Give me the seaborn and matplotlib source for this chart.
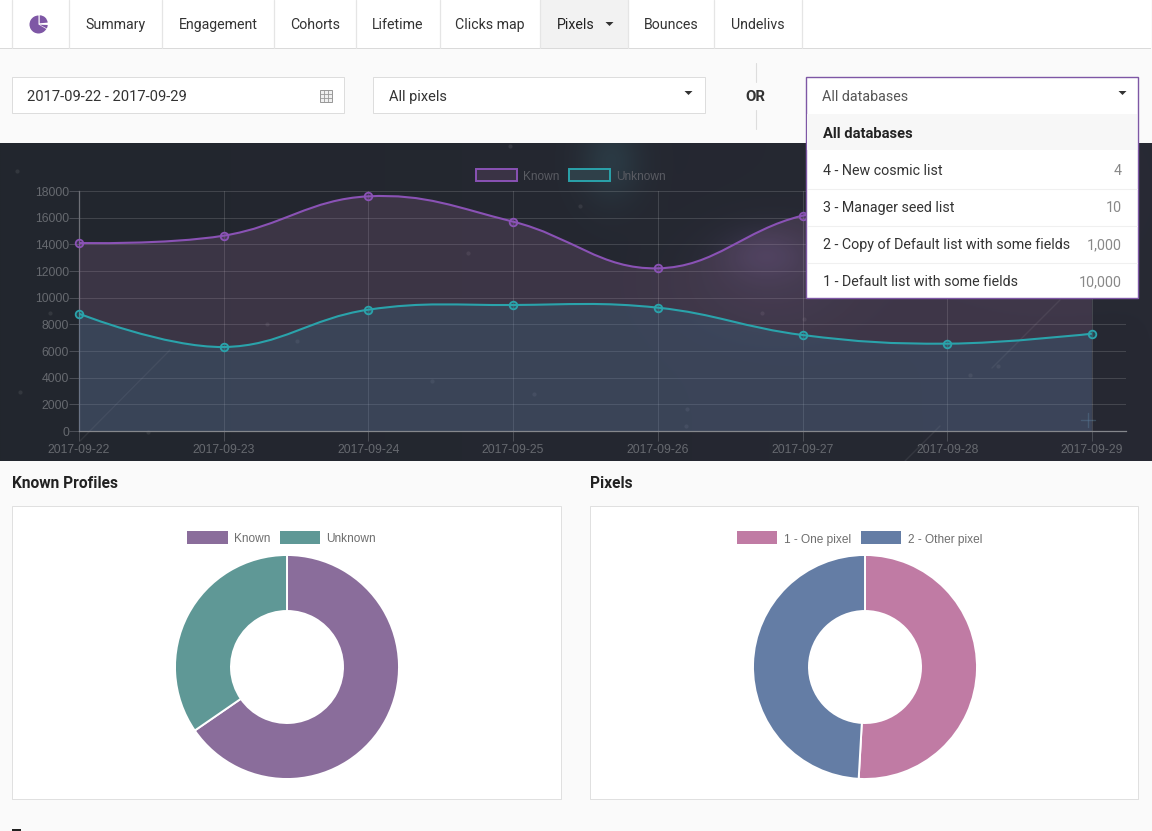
#!/usr/bin/env python3
"""
Recreates the stats dashboard screenshot: nav bar, filters, line chart, two donuts.
"""

import numpy as np
import pandas as pd
import matplotlib
matplotlib.use("Agg")
import matplotlib.pyplot as plt
import seaborn as sns
from matplotlib.patches import Rectangle, PathPatch, Wedge
from matplotlib.path import Path

W, H = 1152, 831

# chart data
dates = ['2017-09-22', '2017-09-23', '2017-09-24', '2017-09-25',
         '2017-09-26', '2017-09-27', '2017-09-28', '2017-09-29']
known = [14100, 14650, 17600, 15700, 12200, 16150, 17400, 16500]
unknown = [8800, 6300, 9100, 9450, 9250, 7200, 6550, 7300]
y_ticks = [0, 2000, 4000, 6000, 8000, 10000, 12000, 14000, 16000, 18000]

profile_labels = ['Known', 'Unknown']
profile_values = [65.4, 34.6]
pixel_labels = ['1 - One pixel', '2 - Other pixel']
pixel_values = [50.9, 49.1]

# page text
nav_items = ['Summary', 'Engagement', 'Cohorts', 'Lifetime', 'Clicks map',
             'Pixels', 'Bounces', 'Undelivs']
nav_edges = [69, 162, 274, 356, 440, 540, 628, 714, 802]
db_names = ['4 - New cosmic list', '3 - Manager seed list',
            '2 - Copy of Default list with some fields',
            '1 - Default list with some fields']
db_counts = ['4', '10', '1,000', '10,000']

# background decoration, page pixels
nebula = [(610, 160, 30, 40, (6, 18, 19)), (765, 253, 40, 25, (16, 11, 22)),
          (770, 280, 80, 50, (9, 6, 11)), (1010, 190, 90, 70, (12, 8, 14))]
stars = [(17, 171), (50, 313), (20, 392), (267, 324), (297, 341), (148, 432),
         (468, 253), (432, 381), (534, 394), (580, 206), (762, 313), (687, 409),
         (686, 426), (510, 146), (804, 319), (998, 366), (970, 375)]
streaks = [((80, 441), (170, 350)), ((992, 368), (1060, 300)), ((905, 461), (940, 426))]

PURPLE = '#8a52b5'
TEAL = '#2aa3ab'
UI_FONT = 'Roboto'
CHART_FONT = 'Liberation Sans'

sns.set_style("white")
plt.rcParams['font.family'] = [UI_FONT, 'DejaVu Sans']


def px_axes(fig, x0, y0, x1, y1, zorder=1):
    """Axes placed by page pixels (y measured from the top)."""
    ax = fig.add_axes([x0 / W, 1 - y1 / H, (x1 - x0) / W, (y1 - y0) / H], zorder=zorder)
    ax.patch.set_alpha(0)
    return ax


def box(ax, x0, y0, x1, y1, fc='white', ec='none', lw=0.72, z=2):
    ax.add_patch(Rectangle((x0 - 0.7, y0 - 0.7), x1 - x0, y1 - y0, fc=fc, ec=ec, lw=lw, zorder=z))


def label(ax, x, y, s, size=10.3, color='#333333', **kw):
    """UI text, y is the visual centre of the lowercase line."""
    ax.text(x, y + 5, s, fontsize=size, color=color, va='baseline', zorder=6, **kw)


def caret(ax, x, y, color='#333333'):
    ax.fill([x - 4, x + 4, x], [y - 2, y - 2, y + 2], color=color, lw=0, zorder=6)


def page_axes(fig, zorder):
    ax = px_axes(fig, 0, 0, W, H, zorder=zorder)
    ax.set_xlim(0, W)
    ax.set_ylim(H, 0)
    ax.axis('off')
    return ax


def draw_background(ui):
    """Dark starfield panel behind the line chart."""
    xx, yy = np.meshgrid(np.arange(0, W, 2.0), np.arange(143, 461, 2.0))
    img = np.zeros(xx.shape + (3,))
    img[..., 0] = 34 + 5 * xx / W
    img[..., 1] = 38 + 3 * xx / W
    img[..., 2] = 46 + 5 * xx / W
    for cx, cy, sx, sy, tint in nebula:
        blob = np.exp(-((xx - cx) / sx) ** 2 - ((yy - cy) / sy) ** 2)
        for i in range(3):
            img[..., i] += tint[i] * blob
    ui.imshow(img / 255, extent=(0, W, 461, 143), aspect='auto', zorder=1,
              interpolation='bilinear')
    ui.set_xlim(0, W)
    ui.set_ylim(H, 0)
    ui.scatter([s[0] for s in stars], [s[1] for s in stars], s=9, color='white',
               alpha=0.08, lw=0, zorder=2)
    for a, b in streaks:
        ui.plot([a[0], b[0]], [a[1], b[1]], color='white', alpha=0.07, lw=1, zorder=2)
    # bright cross star, lower right
    ui.plot([1081, 1095], [420, 420], color='#5f8fa8', alpha=0.35, lw=1, zorder=2)
    ui.plot([1088, 1088], [413, 427], color='#5f8fa8', alpha=0.35, lw=1, zorder=2)


def draw_nav(ui):
    box(ui, 0, 0, W, 48.7, fc='white')
    box(ui, 0, 48.7, W, 50, fc='#dadada')
    box(ui, 541, 0, 628.7, 48.7, fc='#f2f2f2')
    for x in [12] + nav_edges:
        ui.plot([x, x], [0, 48], color='#e5e5e5', lw=0.9, zorder=3)
    for left, right, name in zip(nav_edges[:-1], nav_edges[1:], nav_items):
        if name == 'Pixels':
            label(ui, 556.5, 24, name, size=10.2, color='#222222')
            continue
        label(ui, (left + right) / 2, 24, name, size=10.2, ha='center')
    caret(ui, 609.5, 24)
    # pie logo
    ui.add_patch(Wedge((38.5, 24.5), 9, 30, 270, fc='#7e57a5', lw=0, zorder=4))
    ui.add_patch(Wedge((39.7, 23.3), 8, 270, 355, fc='#7e57a5', lw=0, zorder=4))
    ui.add_patch(Wedge((39.7, 24.7), 8, 2, 28, fc='#7e57a5', lw=0, zorder=4))


def draw_filters(ui):
    box(ui, 12.5, 77.5, 344.5, 113.5, ec='#dddddd')
    label(ui, 27, 96, '2017-09-22 - 2017-09-29', size=10.6)
    box(ui, 320.5, 91, 332.5, 103, fc='#f0f0f0', ec='#999999', z=4)
    for d in [324, 328]:
        ui.plot([d, d], [90, 102], color='#999999', lw=0.6, zorder=5)
    for d in [94, 98]:
        ui.plot([320, 332], [d, d], color='#999999', lw=0.6, zorder=5)
    box(ui, 373.5, 77.5, 705.5, 113.5, ec='#dddddd')
    label(ui, 389, 96, 'All pixels', size=10.5)
    caret(ui, 688.5, 93)
    ui.plot([756, 756], [63, 82], color='#dddddd', lw=0.8, zorder=3)
    ui.plot([756, 756], [110, 129], color='#dddddd', lw=0.8, zorder=3)
    label(ui, 755.5, 96, 'OR', size=10.8, fontweight='bold', ha='center')


def draw_dropdown(top):
    box(top, 806.5, 77.5, 1138.5, 298.5, ec='#7e57a5', lw=1.0, z=2)
    box(top, 807.5, 114.5, 1137.5, 151, fc='#f7f7f7', z=3)
    label(top, 822, 96, 'All databases', size=10.3, color='#555555')
    caret(top, 1122.5, 93)
    label(top, 823, 133, 'All databases', size=10.6, color='#222222', fontweight='bold')
    for i, (name, count) in enumerate(zip(db_names, db_counts)):
        y = 170 + 37 * i
        label(top, 823, y, name, size=10.3)
        label(top, 1122, y, count, size=10.3, color='#888888', ha='right')
        if i:
            top.plot([808, 1137], [y - 18.5, y - 18.5], color='#f0f0f0', lw=0.8, zorder=3)


def spline_path(values, sx, sy, t=0.4):
    """Bezier path through the points, same tension spline as the original chart."""
    n = len(values)
    pts = np.array([[i * sx, v * sy] for i, v in enumerate(values)])
    before, after = pts.copy(), pts.copy()
    for i in range(1, n - 1):
        d01 = np.hypot(*(pts[i] - pts[i - 1]))
        d12 = np.hypot(*(pts[i + 1] - pts[i]))
        s = d01 / (d01 + d12)
        span = pts[i + 1] - pts[i - 1]
        before[i] = pts[i] - t * s * span
        after[i] = pts[i] + t * (1 - s) * span
    verts = [pts[0]]
    codes = [Path.MOVETO]
    for i in range(n - 1):
        verts += [after[i], before[i + 1], pts[i + 1]]
        codes += [Path.CURVE4] * 3
    verts = np.array(verts) / [sx, sy]
    return verts, codes


def draw_line_chart(fig):
    x0, x_step = 79, 144.7
    ax = px_axes(fig, x0, 191, 1126, 431, zorder=2)
    sx, sy = x_step, 240 / 18000
    df = pd.DataFrame({'pos': range(len(dates)), 'known': known, 'unknown': unknown})

    for col, line_c, fill_c in [('known', PURPLE, '#a172a2'), ('unknown', TEAL, '#3381a0')]:
        verts, codes = spline_path(df[col].tolist(), sx, sy)
        fill_v = np.vstack([verts, [[len(dates) - 1, 0], [0, 0], [0, 0]]])
        fill_c_codes = codes + [Path.LINETO, Path.LINETO, Path.CLOSEPOLY]
        ax.add_patch(PathPatch(Path(fill_v, fill_c_codes), fc=fill_c, ec='none', alpha=0.2, zorder=3))
        ax.add_patch(PathPatch(Path(verts, codes), fc='none', ec=line_c, lw=1.5, zorder=4))
        sns.lineplot(data=df, x='pos', y=col, ax=ax, linestyle='', marker='o', markersize=5.5,
                     markerfacecolor=(*matplotlib.colors.to_rgb(line_c), 0.25),
                     markeredgecolor=line_c, markeredgewidth=1.3, clip_on=False, zorder=5,
                     legend=False, errorbar=None)

    ax.set_xlim(0, (1126 - x0) / x_step)
    ax.set_ylim(0, 18000)
    ax.set_xlabel('')
    ax.set_ylabel('')
    ax.set_xticks(range(len(dates)))
    ax.set_xticklabels(dates, fontfamily=CHART_FONT, fontsize=8.8, color='#66696f')
    ax.set_yticks(y_ticks)
    ax.set_yticklabels([str(v) for v in y_ticks], fontfamily=CHART_FONT, fontsize=8.8, color='#66696f')
    ax.tick_params(axis='both', length=7.2, width=0.72, color='#4a4d55', bottom=True, left=True)
    ax.tick_params(axis='x', pad=2.2)
    ax.tick_params(axis='y', pad=0)
    ax.grid(True, color='white', alpha=0.14, lw=0.72)
    ax.set_axisbelow(True)
    for side in ['top', 'right']:
        ax.spines[side].set_visible(False)
    ax.spines['bottom'].set_color('#85878c')
    ax.spines['left'].set_color('#6e7077')
    ax.spines['bottom'].set_linewidth(0.9)
    ax.spines['left'].set_linewidth(0.9)


def chart_legend(ui, entries, y, text_color):
    for x0, x1, fc, ec, name in entries:
        ui.add_patch(Rectangle((x0 - 0.5, y), x1 - x0, 12.5, fc=fc, ec=ec, lw=1.4, zorder=6))
        ui.text(x1 + 6, y + 11.5, name, fontfamily=CHART_FONT, fontsize=8.6, color=text_color,
                va='baseline', zorder=6)


def draw_donut(fig, cx, values, colors):
    r = 112
    ax = px_axes(fig, cx - r, 667 - r, cx + r, 667 + r, zorder=3)
    ax.pie(values, colors=colors, startangle=90, counterclock=False, radius=1,
           wedgeprops={'width': 0.5, 'edgecolor': 'white', 'linewidth': 1.4})
    ax.set_xlim(-1, 1)
    ax.set_ylim(-1, 1)


def draw_lower(ui, fig):
    label(ui, 12, 483, 'Known Profiles', size=11.2, color='#222222', fontweight='bold')
    label(ui, 590, 483, 'Pixels', size=11.2, color='#222222', fontweight='bold')
    for x0, x1 in [(12.5, 561.5), (590.5, 1138.5)]:
        box(ui, x0 + 0.5, 507.5, x1 + 0.8, 800.8, fc='#e2e2e2', z=2)
        box(ui, x0, 506.5, x1, 799.5, ec='#e0e0e0', z=3)
    chart_legend(ui, [(187.5, 228, '#8a6d9b', 'none', profile_labels[0]),
                      (280.5, 320.5, '#5f9896', 'none', profile_labels[1])], 531, '#6e6e6e')
    chart_legend(ui, [(737, 777.5, '#c07ba4', 'none', pixel_labels[0]),
                      (861, 901.5, '#647da5', 'none', pixel_labels[1])], 531, '#6e6e6e')
    draw_donut(fig, 287, profile_values, ['#8a6d9b', '#5f9896'])
    draw_donut(fig, 865, pixel_values, ['#c07ba4', '#647da5'])
    box(ui, 12.7, 829.7, 21.7, 832, fc='#222222', z=4)


def main():
    fig = plt.figure(figsize=(W / 100, H / 100), dpi=100, facecolor='#fafafa')
    ui = page_axes(fig, zorder=1)
    top = page_axes(fig, zorder=5)

    draw_background(ui)
    draw_nav(ui)
    draw_filters(ui)
    draw_line_chart(fig)
    chart_legend(top, [(476.5, 517, '#3a3345', PURPLE, 'Known'),
                       (569, 610, '#2f4049', TEAL, 'Unknown')], 168.5, '#5a5c63')
    draw_lower(ui, fig)
    draw_dropdown(top)

    fig.savefig('out.png', dpi=100, facecolor=fig.get_facecolor())
    plt.close(fig)


if __name__ == "__main__":
    main()
